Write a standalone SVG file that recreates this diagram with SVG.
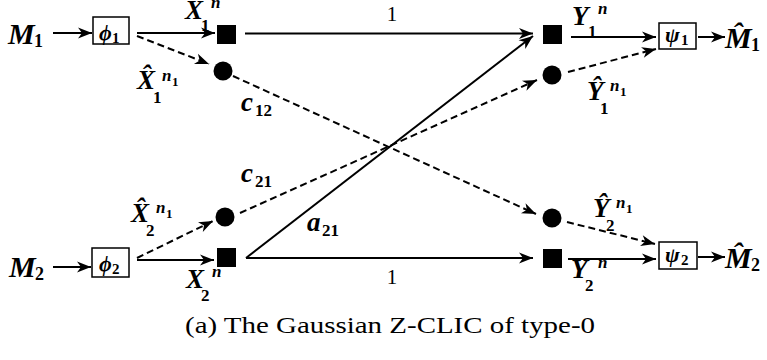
<svg xmlns="http://www.w3.org/2000/svg" width="767" height="360" viewBox="0 0 767 360">
<style>
.ln{stroke:#000;stroke-width:2;fill:none;marker-end:url(#ah)}
.ds{stroke-dasharray:7 4}
.box{fill:#fff;stroke:#000;stroke-width:1.5}
.blk{fill:#000}
text{font-family:"Liberation Serif","DejaVu Serif",serif;fill:#000}
.m{font-style:italic;font-weight:bold;font-size:27px}
.big{font-size:30px}
.g{font-size:22px}
.s{font-weight:bold;font-size:17px}
.s2{font-size:13px}
.sb{font-size:15px}
.s3{font-size:18px}
.si{font-style:italic;font-weight:bold;font-size:17px}
.r{font-size:21px}
.cap{font-size:23px}
</style>
<defs>
<marker id="ah" viewBox="-15 -6 16 12" markerWidth="16" markerHeight="12" refX="0" refY="0" orient="auto" markerUnits="userSpaceOnUse">
<path d="M0,0 L-14,-5.5 L-10,0 L-14,5.5 Z" fill="#000"/>
</marker>
</defs>
<g id="connectors">
<line class="ln" x1="53" y1="33" x2="92" y2="33"/>
<line class="ln" x1="137" y1="33" x2="215" y2="33"/>
<line class="ln ds" x1="137" y1="36" x2="209" y2="64"/>
<line class="ln" x1="245" y1="33.5" x2="533" y2="33.5"/>
<line class="ln" x1="246" y1="258" x2="533" y2="36"/>
<line class="ln ds" x1="233" y1="76" x2="536" y2="214"/>
<line class="ln ds" x1="240" y1="213" x2="537" y2="80"/>
<line class="ln ds" x1="137" y1="258" x2="213" y2="221"/>
<line class="ln" x1="137" y1="260" x2="214" y2="260"/>
<line class="ln" x1="246" y1="258" x2="533" y2="258"/>
<line class="ln" x1="571" y1="37" x2="656" y2="37"/>
<line class="ln ds" x1="568" y1="72" x2="656" y2="49"/>
<line class="ln" x1="698" y1="37" x2="725" y2="37"/>
<line class="ln ds" x1="567" y1="222" x2="655" y2="244"/>
<line class="ln" x1="568" y1="259" x2="656" y2="259"/>
<line class="ln" x1="698" y1="257" x2="725" y2="257"/>
<line class="ln" x1="53" y1="267" x2="91" y2="267"/>
<text class="r" x="392" y="21" text-anchor="middle">1</text>
<text class="r" x="392" y="284" text-anchor="middle">1</text>
<text x="241" y="111"><tspan class="m">c</tspan><tspan class="s" x="255" y="116">12</tspan></text>
<text x="241" y="182"><tspan class="m">c</tspan><tspan class="s" x="255" y="187">21</tspan></text>
<text x="307" y="231"><tspan class="m">a</tspan><tspan class="s" x="322" y="236">21</tspan></text>
</g>
<g id="M1"><text x="8" y="44"><tspan class="m big">M</tspan><tspan class="s s3" x="34" y="47">1</tspan></text></g>
<g id="phi1"><rect class="box" x="93" y="17" width="36" height="27"/><text x="99" y="40"><tspan class="m g">ϕ</tspan><tspan class="s sb" x="112" y="43">1</tspan></text></g>
<g id="X1"><rect class="blk" x="217" y="25" width="19" height="19"/><text x="185" y="19"><tspan class="m">X</tspan><tspan class="si" x="211" y="8">n</tspan><tspan class="s" x="201" y="31">1</tspan></text></g>
<g id="Xh1"><circle class="blk" cx="223" cy="71" r="9.5"/><text x="137" y="89"><tspan class="m">X̂</tspan><tspan class="si" x="162" y="81">n</tspan><tspan class="s s2" x="172" y="86">1</tspan><tspan class="s" x="153" y="103">1</tspan></text></g>
<g id="M2"><text x="9" y="277"><tspan class="m big">M</tspan><tspan class="s s3" x="35" y="280">2</tspan></text></g>
<g id="phi2"><rect class="box" x="92" y="248" width="37" height="29"/><text x="99" y="271"><tspan class="m g">ϕ</tspan><tspan class="s sb" x="112" y="274">2</tspan></text></g>
<g id="Xh2"><circle class="blk" cx="225" cy="217" r="9.5"/><text x="131" y="222"><tspan class="m">X̂</tspan><tspan class="si" x="156" y="213">n</tspan><tspan class="s s2" x="166" y="218">1</tspan><tspan class="s" x="146" y="236">2</tspan></text></g>
<g id="X2"><rect class="blk" x="217" y="248" width="19" height="19"/><text x="186" y="288"><tspan class="m">X</tspan><tspan class="si" x="212" y="277">n</tspan><tspan class="s" x="201" y="301">2</tspan></text></g>
<g id="Y1"><rect class="blk" x="543" y="25" width="19" height="19"/><text x="572" y="25"><tspan class="m">Y</tspan><tspan class="si" x="598" y="14">n</tspan><tspan class="s" x="588" y="37">1</tspan></text></g>
<g id="Yh1"><circle class="blk" cx="552" cy="75" r="9.5"/><text x="587" y="100"><tspan class="m">Ŷ</tspan><tspan class="si" x="610" y="91">n</tspan><tspan class="s s2" x="620" y="96">1</tspan><tspan class="s" x="600" y="114">1</tspan></text></g>
<g id="Yh2"><circle class="blk" cx="552" cy="218" r="9.5"/><text x="593" y="217"><tspan class="m">Ŷ</tspan><tspan class="si" x="616" y="208">n</tspan><tspan class="s s2" x="626" y="213">1</tspan><tspan class="s" x="606" y="231">2</tspan></text></g>
<g id="Y2"><rect class="blk" x="543" y="249" width="19" height="19"/><text x="571" y="278"><tspan class="m">Y</tspan><tspan class="si" x="598" y="268">n</tspan><tspan class="s" x="585" y="291">2</tspan></text></g>
<g id="psi1"><rect class="box" x="659" y="23" width="37" height="26"/><text x="665" y="42"><tspan class="m g">ψ</tspan><tspan class="s sb" x="681" y="45">1</tspan></text></g>
<g id="Mh1"><text x="725" y="48"><tspan class="m big">M̂</tspan><tspan class="s s3" x="751" y="51">1</tspan></text></g>
<g id="psi2"><rect class="box" x="659" y="242" width="38" height="27"/><text x="665" y="262"><tspan class="m g">ψ</tspan><tspan class="s sb" x="681" y="265">2</tspan></text></g>
<g id="Mh2"><text x="725" y="268"><tspan class="m big">M̂</tspan><tspan class="s s3" x="751" y="271">2</tspan></text></g>
<text class="cap" x="185" y="333" textLength="410" lengthAdjust="spacingAndGlyphs">(a) The Gaussian Z-CLIC of type-0</text>
</svg>
